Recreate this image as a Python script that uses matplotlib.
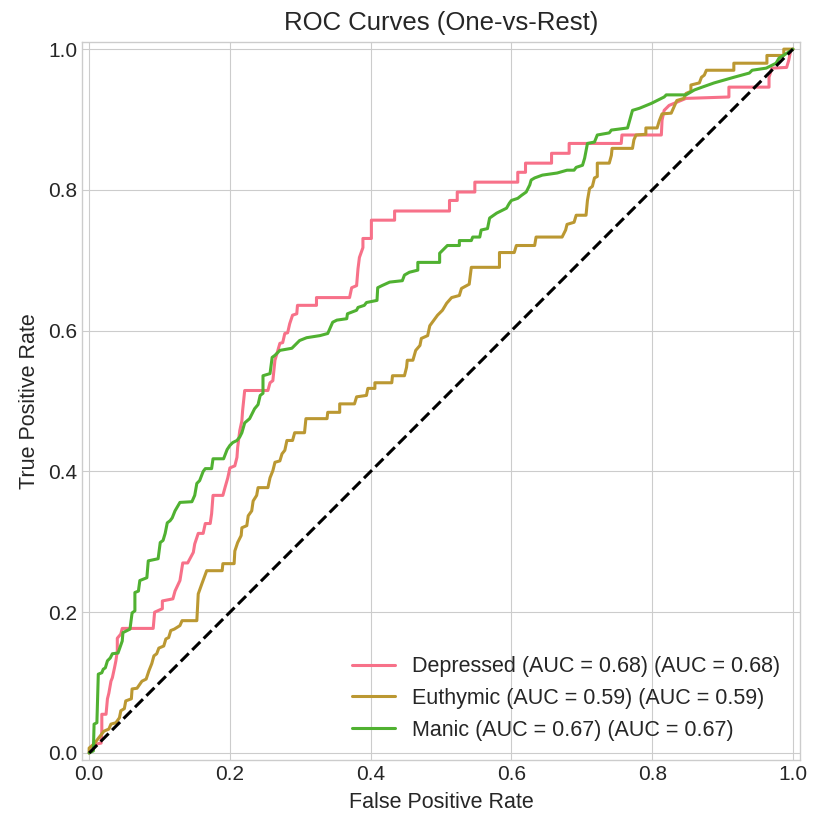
import matplotlib
matplotlib.use("Agg")
import matplotlib.pyplot as plt

plt.style.use("seaborn-v0_8-whitegrid")
plt.rcParams["font.family"] = ["Liberation Sans", "DejaVu Sans"]

classes = ["Depressed", "Euthymic", "Manic"]
aucs = [0.68, 0.59, 0.67]
colors = ["#f77189", "#bb9832", "#50b131"]

fpr_depressed = [0.0, 0.003, 0.011, 0.017, 0.018, 0.018, 0.024, 0.026, 0.028, 0.031, 0.033, 0.036, 0.038, 0.040,
                 0.040, 0.045, 0.047, 0.091, 0.093, 0.104, 0.104, 0.119, 0.122, 0.129, 0.133, 0.140, 0.148, 0.150,
                 0.155, 0.162, 0.165, 0.172, 0.174, 0.176, 0.190, 0.193, 0.197, 0.200, 0.207, 0.210, 0.211, 0.214,
                 0.217, 0.218, 0.221, 0.254, 0.257, 0.261, 0.264, 0.267, 0.271, 0.275, 0.278, 0.282, 0.285, 0.289,
                 0.295, 0.296, 0.323, 0.323, 0.370, 0.373, 0.380, 0.382, 0.384, 0.389, 0.389, 0.401, 0.401, 0.434,
                 0.434, 0.512, 0.512, 0.523, 0.523, 0.548, 0.548, 0.609, 0.609, 0.620, 0.620, 0.657, 0.657, 0.682,
                 0.682, 0.756, 0.757, 0.813, 0.814, 0.817, 0.824, 0.848, 0.909, 0.909, 0.966, 0.966, 0.970, 0.991,
                 0.994, 0.997, 1.0]
tpr_depressed = [0.0, 0.003, 0.013, 0.014, 0.031, 0.055, 0.055, 0.077, 0.085, 0.102, 0.107, 0.121, 0.131, 0.145,
                 0.163, 0.169, 0.177, 0.177, 0.200, 0.205, 0.216, 0.219, 0.230, 0.245, 0.270, 0.270, 0.285, 0.297,
                 0.312, 0.312, 0.326, 0.326, 0.340, 0.366, 0.366, 0.377, 0.391, 0.405, 0.408, 0.420, 0.434, 0.458,
                 0.472, 0.486, 0.515, 0.515, 0.526, 0.529, 0.558, 0.568, 0.582, 0.583, 0.596, 0.597, 0.610, 0.622,
                 0.624, 0.636, 0.636, 0.647, 0.647, 0.661, 0.664, 0.688, 0.704, 0.718, 0.731, 0.731, 0.757, 0.757,
                 0.770, 0.770, 0.785, 0.785, 0.797, 0.797, 0.811, 0.811, 0.825, 0.825, 0.838, 0.838, 0.852, 0.852,
                 0.866, 0.866, 0.878, 0.878, 0.899, 0.913, 0.920, 0.930, 0.932, 0.946, 0.946, 0.960, 0.973, 0.974,
                 0.984, 0.999, 1.0]

fpr_euthymic = [0.0, 0.0, 0.007, 0.021, 0.028, 0.031, 0.038, 0.043, 0.045, 0.050, 0.052, 0.060, 0.061, 0.068, 0.075,
                0.081, 0.085, 0.089, 0.092, 0.096, 0.099, 0.106, 0.109, 0.113, 0.116, 0.121, 0.129, 0.132, 0.153,
                0.155, 0.160, 0.167, 0.189, 0.190, 0.206, 0.207, 0.211, 0.216, 0.217, 0.224, 0.226, 0.231, 0.233,
                0.238, 0.240, 0.254, 0.257, 0.261, 0.264, 0.271, 0.274, 0.278, 0.281, 0.289, 0.292, 0.306, 0.308,
                0.338, 0.339, 0.356, 0.356, 0.377, 0.380, 0.394, 0.396, 0.406, 0.406, 0.430, 0.431, 0.448, 0.451,
                0.452, 0.460, 0.464, 0.470, 0.472, 0.481, 0.484, 0.495, 0.502, 0.508, 0.515, 0.526, 0.529, 0.540,
                0.543, 0.583, 0.583, 0.604, 0.607, 0.633, 0.635, 0.672, 0.677, 0.679, 0.689, 0.692, 0.706, 0.708,
                0.711, 0.715, 0.718, 0.722, 0.722, 0.739, 0.742, 0.743, 0.772, 0.774, 0.777, 0.791, 0.791, 0.807,
                0.810, 0.814, 0.827, 0.835, 0.845, 0.848, 0.855, 0.855, 0.867, 0.870, 0.874, 0.877, 0.916, 0.916,
                0.963, 0.963, 0.987, 0.987, 1.0]
tpr_euthymic = [0.0, 0.007, 0.013, 0.031, 0.034, 0.041, 0.043, 0.050, 0.060, 0.063, 0.074, 0.077, 0.091, 0.092,
                0.102, 0.105, 0.117, 0.127, 0.138, 0.141, 0.149, 0.152, 0.162, 0.164, 0.174, 0.176, 0.181, 0.188,
                0.188, 0.226, 0.240, 0.259, 0.259, 0.269, 0.269, 0.287, 0.299, 0.309, 0.320, 0.323, 0.337, 0.344,
                0.358, 0.366, 0.377, 0.377, 0.391, 0.401, 0.413, 0.415, 0.425, 0.430, 0.444, 0.444, 0.455, 0.455,
                0.475, 0.475, 0.484, 0.484, 0.496, 0.496, 0.506, 0.508, 0.518, 0.518, 0.526, 0.526, 0.536, 0.536,
                0.548, 0.558, 0.558, 0.572, 0.579, 0.589, 0.593, 0.607, 0.622, 0.629, 0.639, 0.647, 0.650, 0.660,
                0.666, 0.690, 0.690, 0.711, 0.711, 0.721, 0.721, 0.733, 0.733, 0.743, 0.751, 0.754, 0.764, 0.764,
                0.785, 0.802, 0.805, 0.817, 0.819, 0.838, 0.838, 0.849, 0.859, 0.859, 0.871, 0.878, 0.879, 0.888,
                0.888, 0.898, 0.908, 0.909, 0.927, 0.930, 0.937, 0.940, 0.949, 0.952, 0.960, 0.963, 0.970, 0.970,
                0.980, 0.980, 0.991, 0.991, 1.0, 1.0]

fpr_manic = [0.0, 0.006, 0.007, 0.011, 0.013, 0.018, 0.020, 0.023, 0.026, 0.030, 0.033, 0.041, 0.047, 0.048, 0.054,
             0.058, 0.061, 0.065, 0.065, 0.070, 0.072, 0.082, 0.084, 0.098, 0.101, 0.105, 0.108, 0.111, 0.115, 0.118,
             0.122, 0.129, 0.146, 0.150, 0.153, 0.157, 0.162, 0.165, 0.174, 0.176, 0.191, 0.196, 0.200, 0.204, 0.210,
             0.214, 0.217, 0.221, 0.228, 0.235, 0.240, 0.243, 0.247, 0.247, 0.257, 0.260, 0.264, 0.271, 0.288, 0.292,
             0.299, 0.309, 0.328, 0.339, 0.342, 0.346, 0.352, 0.366, 0.367, 0.380, 0.382, 0.391, 0.394, 0.409, 0.410,
             0.416, 0.427, 0.445, 0.448, 0.455, 0.467, 0.467, 0.498, 0.498, 0.509, 0.526, 0.526, 0.543, 0.545, 0.555,
             0.557, 0.566, 0.569, 0.579, 0.593, 0.597, 0.600, 0.609, 0.614, 0.621, 0.626, 0.628, 0.633, 0.644, 0.665,
             0.679, 0.689, 0.692, 0.701, 0.704, 0.708, 0.718, 0.722, 0.739, 0.742, 0.765, 0.772, 0.782, 0.799, 0.817,
             0.820, 0.848, 0.860, 0.871, 0.888, 0.916, 0.938, 0.942, 0.962, 0.976, 0.980, 0.991, 1.0]
tpr_manic = [0.0, 0.003, 0.041, 0.043, 0.112, 0.114, 0.119, 0.121, 0.131, 0.135, 0.141, 0.142, 0.159, 0.171, 0.174,
             0.176, 0.199, 0.202, 0.228, 0.230, 0.245, 0.249, 0.273, 0.276, 0.299, 0.302, 0.312, 0.327, 0.330, 0.334,
             0.344, 0.356, 0.357, 0.366, 0.383, 0.387, 0.400, 0.404, 0.404, 0.418, 0.418, 0.431, 0.437, 0.441, 0.444,
             0.449, 0.455, 0.469, 0.475, 0.489, 0.495, 0.508, 0.511, 0.536, 0.539, 0.562, 0.565, 0.572, 0.575, 0.579,
             0.586, 0.590, 0.593, 0.596, 0.603, 0.612, 0.615, 0.617, 0.624, 0.629, 0.633, 0.636, 0.640, 0.643, 0.661,
             0.664, 0.669, 0.671, 0.679, 0.683, 0.686, 0.697, 0.697, 0.710, 0.721, 0.721, 0.728, 0.728, 0.733, 0.733,
             0.743, 0.745, 0.760, 0.767, 0.774, 0.781, 0.785, 0.788, 0.792, 0.797, 0.807, 0.814, 0.817, 0.821, 0.824,
             0.828, 0.828, 0.832, 0.835, 0.845, 0.866, 0.868, 0.878, 0.881, 0.885, 0.888, 0.913, 0.916, 0.923, 0.932,
             0.935, 0.935, 0.942, 0.946, 0.952, 0.960, 0.966, 0.970, 0.973, 0.980, 0.987, 0.994, 1.0]

curves = [(fpr_depressed, tpr_depressed), (fpr_euthymic, tpr_euthymic), (fpr_manic, tpr_manic)]

fig = plt.figure(figsize=(8.13, 8.14), dpi=100)
ax = fig.add_axes([0.101, 0.0663, 0.883, 0.882])

for (fpr, tpr), name, auc, col in zip(curves, classes, aucs, colors):
    ax.plot(fpr, tpr, color=col, lw=2.2,
            label=f"{name} (AUC = {auc:.2f}) (AUC = {auc:.2f})")

ax.plot([0, 1], [0, 1], "k--", lw=2.2)
ax.set_xlim(-0.01, 1.01)
ax.set_ylim(-0.01, 1.01)
ax.set_xlabel("False Positive Rate", fontsize=15.5, color="#262626", labelpad=6)
ax.set_ylabel("True Positive Rate", fontsize=15.5, color="#262626", labelpad=6)
ax.set_title("ROC Curves (One-vs-Rest)", fontsize=18.5, color="#262626", pad=8.5)
ax.tick_params(labelsize=15, colors="#262626")
ax.legend(loc="lower right", fontsize=15.5)

fig.savefig("out.png", dpi=100)
